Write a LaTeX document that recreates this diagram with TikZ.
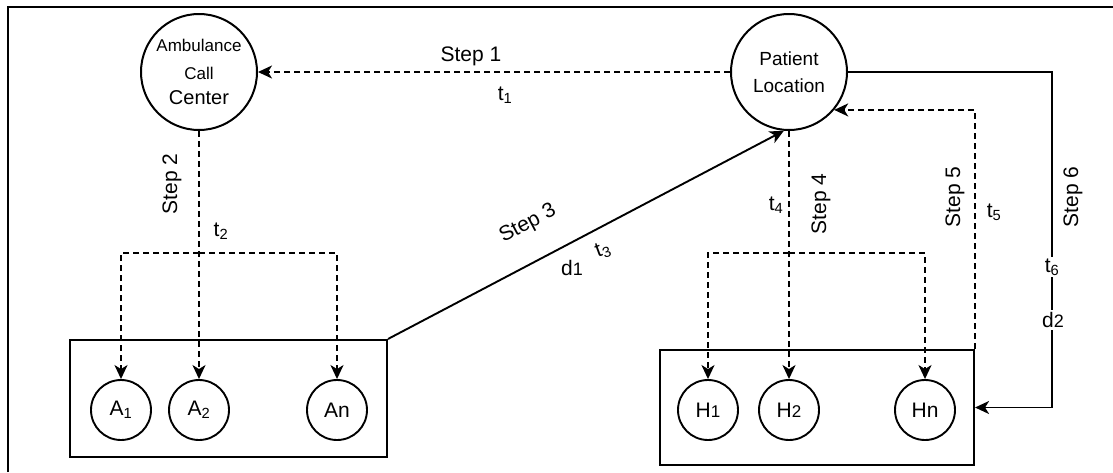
\documentclass[tikz,border=0pt]{standalone}
\usepackage{fontspec}
\setmainfont{Liberation Sans}
\usetikzlibrary{arrows.meta,calc}

\newcommand{\fsz}[1]{\fontsize{#1}{#1}\selectfont}

\begin{document}
\begin{tikzpicture}[x=1pt,y=-1pt,
  every node/.style={font=\fsz{21}, inner sep=0pt},
  bigc/.style={draw, circle, line width=2pt, minimum size=116pt, align=center},
  smallc/.style={draw, circle, line width=1.9pt, minimum size=60pt},
  grp/.style={draw, line width=2.1pt, rectangle},
  tip/.style={-{Stealth[length=14pt,width=13pt,inset=4pt]}},
  flow/.style={line width=1.9pt, dash pattern=on 6pt off 4pt, tip},
  solidflow/.style={line width=1.9pt, tip},
  lbl/.style={font=\fsz{21}},
  gap/.style={font=\fsz{21}, fill=white, inner sep=2pt}
]
\useasboundingbox (0,0) rectangle (1113,472);

% outer frame (top and left edges)
\draw[line width=2.4pt] (8,472) -- (8,7) -- (1113,7);

% main sites
\node[bigc] (amb) at (199,72)
  {\fsz{17}Ambulance\\[7pt]\fsz{17}Call\\[4pt]\fsz{20}Center};
\node[bigc] (pat) at (789,72)
  {\fsz{19}Patient\\[6pt]\fsz{19}Location};

% ambulance group
\node[grp, minimum width=317pt, minimum height=117pt] (abox) at (228.5,398.5) {};
\node[smallc] (A1) at (121,410) {A\textsubscript{1}};
\node[smallc] (A2) at (199,410) {A\textsubscript{2}};
\node[smallc] (An) at (337,410) {An};

% hospital group
\node[grp, minimum width=314pt, minimum height=115pt] (hbox) at (817,407.5) {};
\node[smallc] (H1) at (708,410) {H{\fsz{17}1}};
\node[smallc] (H2) at (789,410) {H{\fsz{17}2}};
\node[smallc] (Hn) at (925,410) {Hn};

% Step 1
\draw[flow] (pat) -- (amb);
\node[lbl] (s1) at (471,56) {Step 1};
\node[lbl] (t1) at (505,95) {t\textsubscript{1}};

% Step 2
\coordinate (c2) at (199,253);
\draw[flow] (amb) -- (A2);
\draw[flow] (c2) -| (A1);
\draw[flow] (c2) -| (An);
\node[lbl, rotate=90] (s2) at (172,184) {Step 2};
\node[lbl] (t2) at (221,231) {t\textsubscript{2}};

% Step 3
\draw[solidflow] (abox.north east) -- (pat.265);
\node[lbl, rotate=28] (s3) at (528,224) {Step 3};
\node[lbl, rotate=20] (t3) at (603,250) {t\textsubscript{3}};
\node[lbl] (d1) at (572,268) {d{\fsz{18}1}};

% Step 4
\coordinate (c4) at (789,253);
\draw[flow] (pat) -- (H2);
\draw[flow] (c4) -| (H1);
\draw[flow] (c4) -| (Hn);
\node[lbl, rotate=90] (s4) at (821,204) {Step 4};
\node[lbl] (t4) at (776,205) {t\textsubscript{4}};

% Step 5
\draw[flow] (hbox.north east) |- (pat.-40);
\node[lbl, rotate=90] (s5) at (955,197) {Step 5};
\node[lbl] (t5) at (994,212) {t\textsubscript{5}};

% Step 6
\coordinate (c6) at (1052,72);
\draw[solidflow] (pat.east) -- (c6) |- (hbox.east);
\node[lbl, rotate=90] (s6) at (1073,197) {Step 6};
\node[gap] (t6) at (1052,267) {t\textsubscript{6}};
\node[gap] (d2) at (1053,320) {d{\fsz{18}2}};
\end{tikzpicture}
\end{document}
